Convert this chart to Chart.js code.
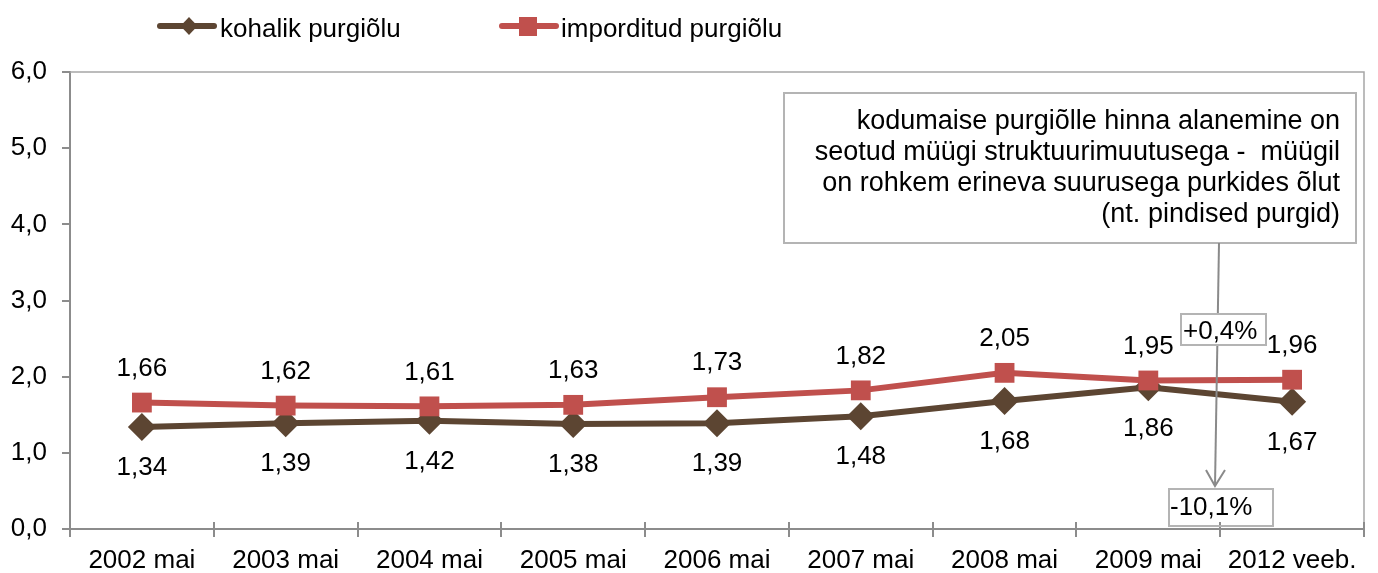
<!DOCTYPE html>
<html>
<head>
<meta charset="utf-8">
<script src="https://cdn.jsdelivr.net/npm/chart.js@4.4.1/dist/chart.umd.min.js"></script>
<style>
  html, body { margin: 0; padding: 0; background: #ffffff; }
  #wrap { width: 1378px; height: 573px; position: relative; }
</style>
</head>
<body>
<div id="wrap"><canvas id="c" width="1378" height="573"></canvas></div>
<script>
const categories = ['2002 mai', '2003 mai', '2004 mai', '2005 mai', '2006 mai', '2007 mai', '2008 mai', '2009 mai', '2012 veeb.'];
const localValues = [1.34, 1.39, 1.42, 1.38, 1.39, 1.48, 1.68, 1.86, 1.67];
const importValues = [1.66, 1.62, 1.61, 1.63, 1.73, 1.82, 2.05, 1.95, 1.96];
const seriesNames = ['kohalik purgiõlu', 'imporditud purgiõlu'];
const calloutLines = [
  'kodumaise purgiõlle hinna alanemine on',
  'seotud müügi struktuurimuutusega -  müügil',
  'on rohkem erineva suurusega purkides õlut',
  '(nt. pindised purgid)'
];
const changeLocal = '-10,1%';
const changeImport = '+0,4%';

const BROWN = '#5c4532';
const RED = '#c0504d';
const AXIS = '#8c8c8c';
const FONT = '"Liberation Sans", Arial, sans-serif';

const fmt = v => v.toFixed(2).replace('.', ',');

const labelPlugin = {
  id: 'dataLabels',
  afterDatasetsDraw(chart) {
    const ctx = chart.ctx;
    ctx.save();
    ctx.font = '26px ' + FONT;
    ctx.fillStyle = '#000';
    ctx.textAlign = 'center';
    ctx.textBaseline = 'middle';
    chart.data.datasets.forEach((ds, di) => {
      const meta = chart.getDatasetMeta(di);
      meta.data.forEach((pt, i) => {
        const off = ds.labelPos === 'above' ? -34 : 41;
        ctx.fillText(fmt(ds.data[i]), pt.x, pt.y + off);
      });
    });
    ctx.restore();
  }
};

const decorPlugin = {
  id: 'decor',
  beforeDatasetsDraw(chart) {
    const ctx = chart.ctx;
    const a = chart.chartArea;
    ctx.save();
    ctx.strokeStyle = '#a6a6a6';
    ctx.lineWidth = 1.5;
    ctx.beginPath();
    ctx.moveTo(a.left, a.top);
    ctx.lineTo(a.right, a.top);
    ctx.lineTo(a.right, a.bottom);
    ctx.stroke();
    ctx.strokeStyle = AXIS;
    ctx.lineWidth = 2;
    const n = categories.length;
    const w = (a.right - a.left) / n;
    for (let i = 1; i <= n; i++) {
      const x = Math.round(a.left + i * w);
      ctx.beginPath();
      ctx.moveTo(x, a.bottom);
      ctx.lineTo(x, a.bottom - 7);
      ctx.stroke();
    }
    ctx.restore();
  },
  afterDraw(chart) {
    const ctx = chart.ctx;
    ctx.save();
    // legend
    ctx.lineCap = 'round';
    ctx.lineWidth = 6;
    ctx.strokeStyle = BROWN;
    ctx.beginPath(); ctx.moveTo(160, 26); ctx.lineTo(214, 26); ctx.stroke();
    ctx.fillStyle = BROWN;
    ctx.beginPath();
    ctx.moveTo(189, 17); ctx.lineTo(197.5, 26); ctx.lineTo(189, 35); ctx.lineTo(180.5, 26); ctx.closePath();
    ctx.fill();
    ctx.strokeStyle = RED;
    ctx.beginPath(); ctx.moveTo(502, 26); ctx.lineTo(556, 26); ctx.stroke();
    ctx.fillStyle = RED;
    ctx.fillRect(519, 17, 18, 19);
    ctx.lineCap = 'butt';
    ctx.fillStyle = '#000';
    ctx.font = '26px ' + FONT;
    ctx.textAlign = 'left';
    ctx.textBaseline = 'alphabetic';
    ctx.fillText(seriesNames[0], 220, 37);
    ctx.fillText(seriesNames[1], 561, 37);

    // callout box
    ctx.strokeStyle = '#b4b4b4';
    ctx.lineWidth = 2;
    ctx.fillStyle = '#fff';
    ctx.fillRect(784, 93, 572, 150);
    ctx.strokeRect(784, 93, 572, 150);
    ctx.fillStyle = '#000';
    ctx.textAlign = 'right';
    ctx.font = '27px ' + FONT;
    calloutLines.forEach((t, i) => ctx.fillText(t, 1340, 129 + i * 31));

    // arrow
    ctx.strokeStyle = '#8a8a8a';
    ctx.lineWidth = 2;
    ctx.beginPath(); ctx.moveTo(1219, 243); ctx.lineTo(1215, 486); ctx.stroke();
    ctx.beginPath(); ctx.moveTo(1206, 470); ctx.lineTo(1215, 486); ctx.lineTo(1225, 470); ctx.stroke();

    // change boxes
    ctx.font = '26px ' + FONT;
    ctx.strokeStyle = '#b4b4b4';
    ctx.fillStyle = '#fff';
    ctx.fillRect(1181, 314, 85, 31);
    ctx.strokeRect(1181, 314, 85, 31);
    ctx.fillStyle = '#000';
    ctx.textAlign = 'left';
    ctx.fillText(changeImport, 1183, 339);
    ctx.strokeStyle = '#b4b4b4';
    ctx.strokeRect(1169, 489, 104, 37);
    ctx.fillText(changeLocal, 1170, 515);
    ctx.restore();
  }
};

new Chart(document.getElementById('c'), {
  type: 'line',
  data: {
    labels: categories,
    datasets: [
      {
        label: seriesNames[0],
        data: localValues,
        borderColor: BROWN,
        backgroundColor: BROWN,
        borderWidth: 6,
        pointStyle: 'rectRot',
        pointRadius: 14,
        pointHoverRadius: 14,
        pointBackgroundColor: BROWN,
        pointBorderWidth: 0,
        tension: 0,
        order: 1,
        labelPos: 'below'
      },
      {
        label: seriesNames[1],
        data: importValues,
        borderColor: RED,
        backgroundColor: RED,
        borderWidth: 6,
        pointStyle: 'rect',
        pointRadius: 14,
        pointHoverRadius: 14,
        pointBackgroundColor: RED,
        pointBorderWidth: 0,
        tension: 0,
        order: 0,
        labelPos: 'above'
      }
    ]
  },
  options: {
    responsive: false,
    animation: false,
    devicePixelRatio: 1,
    layout: { padding: { top: 72, right: 12, left: 0, bottom: 0 } },
    plugins: { legend: { display: false }, tooltip: { enabled: false } },
    scales: {
      x: {
        type: 'category',
        offset: true,
        grid: { display: true, offset: true, drawOnChartArea: false, drawTicks: true, tickLength: 8, color: AXIS, lineWidth: 2 },
        border: { display: true, color: AXIS, width: 2 },
        ticks: { color: '#000', font: { family: FONT, size: 26 }, padding: 8, maxRotation: 0, autoSkip: false },
        afterFit(s) { s.height = 44; }
      },
      y: {
        min: 0, max: 6,
        grid: { display: true, drawOnChartArea: false, drawTicks: true, tickLength: 8, color: AXIS, lineWidth: 2 },
        border: { display: true, color: AXIS, width: 2 },
        ticks: { stepSize: 1, color: '#000', font: { family: FONT, size: 26 }, padding: 15,
                 callback: v => Number(v).toFixed(1).replace('.', ',') },
        afterFit(s) { s.width = 70; }
      }
    }
  },
  plugins: [labelPlugin, decorPlugin]
});
</script>
</body>
</html>
